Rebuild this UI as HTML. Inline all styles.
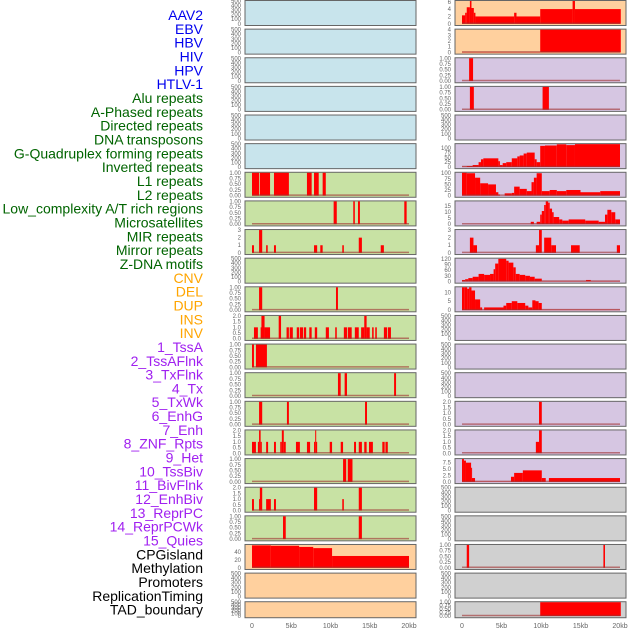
<!DOCTYPE html>
<html><head><meta charset="utf-8"><style>
html,body{margin:0;padding:0;background:#fff;width:630px;height:630px;overflow:hidden}
svg{display:block;font-family:"Liberation Sans",sans-serif}
</style></head><body>
<svg id="chart" width="630" height="630" viewBox="0 0 630 630"></svg>
<script>
const trackLabels = ["AAV2","EBV","HBV","HIV","HPV","HTLV-1","Alu repeats","A-Phased repeats","Directed repeats","DNA transposons","G-Quadruplex forming repeats","Inverted repeats","L1 repeats","L2 repeats","Low_complexity A/T rich regions","Microsatellites","MIR repeats","Mirror repeats","Z-DNA motifs","CNV","DEL","DUP","INS","INV","1_TssA","2_TssAFlnk","3_TxFlnk","4_Tx","5_TxWk","6_EnhG","7_Enh","8_ZNF_Rpts","9_Het","10_TssBiv","11_BivFlnk","12_EnhBiv","13_ReprPC","14_ReprPCWk","15_Quies","CPGisland","Methylation","Promoters","ReplicationTiming","TAD_boundary"];
const labelGroups = [0,0,0,0,0,0,1,1,1,1,1,1,1,1,1,1,1,1,1,2,2,2,2,2,3,3,3,3,3,3,3,3,3,3,3,3,3,3,3,4,4,4,4,4];
const groupColors = ["#0000ee","#006400","#ffa500","#a020f0","#000000"];
const kbTicks = [0,5,10,15,20];
const kbTickLabels = ["0","5kb","10kb","15kb","20kb"];
const leftBg = ["#c8e4ec","#c8e4ec","#c8e4ec","#c8e4ec","#c8e4ec","#c8e4ec","#c8e2a4","#c8e2a4","#c8e2a4","#c8e2a4","#c8e2a4","#c8e2a4","#c8e2a4","#c8e2a4","#c8e2a4","#c8e2a4","#c8e2a4","#c8e2a4","#c8e2a4","#ffd09e","#ffd09e","#ffd09e"];
const rightBg = ["#ffd09e","#ffd09e","#d6c6e2","#d6c6e2","#d6c6e2","#d6c6e2","#d6c6e2","#d6c6e2","#d6c6e2","#d6c6e2","#d6c6e2","#d6c6e2","#d6c6e2","#d6c6e2","#d6c6e2","#d6c6e2","#d6c6e2","#d0d0d0","#d0d0d0","#d0d0d0","#d0d0d0","#d0d0d0"];

const emptyTicks = [0,100,200,300,400,500];
const ticks1 = [0,0.25,0.5,0.75,1], ticks1Labels = ["0.00","0.25","0.50","0.75","1.00"];
const ticks2 = [0,0.5,1,1.5,2], ticks2Labels = ["0.0","0.5","1.0","1.5","2.0"];

// left column series [startKb, endKb, value]
const L7 = [[0,0.9,1],[1.0,2.3,1],[2.8,4.7,1],[7.0,7.6,1],[7.9,8.5,1],[9.0,9.4,1]];
const L8 = [[10.4,10.8,1],[12.9,13.1,1],[13.5,13.75,1],[19.4,19.7,1]];
const L9 = [[0,0.25,1],[0.9,1.3,3],[1.8,2.0,1],[2.8,3.05,1],[7.9,8.3,1],[8.7,9.0,1],[11.5,11.7,1],[13.6,14.0,2],[16.4,16.8,1]];
const L11 = [[0.9,1.3,1],[10.7,10.95,1]];
const L12 = [[0.25,0.75,1],[1.1,1.2,1],[1.2,1.6,2],[1.6,2.3,1],[3.4,3.7,2],[4.4,4.7,1],[4.8,5.2,1],[5.7,6.0,1],[6.1,6.5,1],[6.6,6.9,1],[7.3,7.6,1],[8.0,8.3,1],[9.4,9.8,1],[10.6,10.8,1],[11.7,12.1,1],[12.2,12.7,1],[13.1,13.6,1],[13.9,14.3,1],[14.3,14.6,2],[14.6,15.0,1],[15.3,15.5,1],[15.7,15.9,1],[16.8,17.2,1],[17.3,17.7,1]];
const L13 = [[0,0.25,1],[0.5,1.9,1]];
const L14 = [[10.95,11.3,1],[11.8,12.1,1],[18.1,18.35,1]];
const L15 = [[0.9,1.3,1],[4.45,4.7,1],[14.4,14.65,1]];
const L16 = [[0,0.5,1],[0.75,0.9,1],[0.9,1.1,2],[1.1,1.25,1],[1.8,2.05,1],[2.8,3.05,1],[3.6,3.8,1],[3.8,4.05,2],[4.05,4.3,1],[5.6,6.1,1],[7.0,7.4,1],[7.9,8.05,1],[8.05,8.15,2],[8.15,8.3,1],[9.9,10.2,1],[11.3,11.6,1],[13.0,13.25,1],[13.6,14.0,1],[14.3,14.6,1],[14.9,15.4,1],[16.6,16.9,1],[17.0,17.3,1]];
const L17 = [[11.6,12.0,1],[12.2,12.8,1]];
const L18 = [[0,0.25,1],[0.9,1.0,1],[1.0,1.3,2],[1.8,2.4,1],[2.8,3.05,1],[7.9,8.3,2],[11.5,11.7,1],[13.6,14.0,2]];
const L19 = [[3.95,4.3,1],[13.6,14.0,1]];
const L20 = [[0,2.4,57],[2.4,6,56],[6,7.8,53],[7.8,10.2,50],[10.2,20,30]];

// right column series
const R1 = [[0,0.4,2.3],[0.4,0.6,3],[0.6,1.0,4.5],[1.0,1.2,6.2],[1.2,1.5,4.3],[1.5,1.7,3],[1.7,6.6,2],[6.6,6.9,3],[6.9,9.9,2],[9.9,14.0,4],[14.0,14.3,6.2],[14.3,20.1,4]];
const R2 = [[0,9.9,0.08],[9.9,20.1,4]];
const R3 = [[0.9,1.4,1]];
const R4 = [[1.0,1.5,1],[10.2,11.0,1]];
const R6 = [[0,0.6,2],[0.6,1.35,5],[1.35,2.1,10],[2.1,2.4,25],[2.4,2.7,40],[2.7,4.6,45],[4.6,4.8,30],[4.8,5.15,10],[5.15,5.6,20],[5.6,6.3,25],[6.3,7.0,45],[7.0,7.3,55],[7.3,7.8,60],[7.8,8.2,70],[8.2,9.2,75],[9.2,9.45,40],[9.45,9.9,25],[9.9,10.5,110],[10.5,12,112],[12,13.2,118],[13.2,14.3,114],[14.3,20,119]];
const R7 = [[0,0.6,102],[0.6,1.65,100],[1.65,2.3,80],[2.3,3.3,55],[3.3,4.3,50],[4.3,4.6,15],[4.6,4.8,5],[4.8,5.4,0],[5.4,6.3,10],[6.3,6.6,12],[6.6,7.3,40],[7.3,8.2,30],[8.2,8.8,20],[8.8,9.1,60],[9.1,9.45,80],[9.45,10.1,100],[10.1,11.1,20],[11.1,12,25],[12,13.2,20],[13.2,15,25],[15,17.5,15],[17.5,20,20]];
const R8 = [[8.7,9.1,2],[9.45,9.9,2],[9.9,10.1,8],[10.1,10.4,11],[10.4,10.6,16],[10.6,10.9,19],[10.9,11.1,18],[11.1,11.4,13],[11.4,11.6,10],[11.6,12.3,6],[12.3,12.7,4],[12.7,13.5,3],[13.5,15.6,4],[15.6,17.3,3],[17.3,18.1,2],[18.1,18.4,8],[18.4,18.9,12],[18.9,19.4,10],[19.4,20,4]];
const R9 = [[1.0,1.45,2],[1.45,1.9,1],[9.35,9.75,1],[9.75,10.1,3],[10.4,11.3,2],[11.3,11.9,1],[13.8,14.9,1],[19.6,20.0,1]];
const R10 = [[0,0.4,8],[0.4,0.8,12],[0.8,1.35,18],[1.35,2.1,25],[2.1,2.8,40],[2.8,3.55,35],[3.55,4.0,40],[4.0,4.2,65],[4.2,4.6,95],[4.6,5.6,120],[5.6,5.9,110],[5.9,6.5,100],[6.5,6.8,75],[6.8,7.3,40],[7.3,8.0,35],[8.0,8.6,30],[8.6,9.2,25],[9.2,10.1,15],[10.1,15.7,2],[15.7,16.3,8],[16.3,20,2]];
const R11 = [[0,0.35,13],[0.35,0.65,13.5],[0.65,0.9,12],[0.9,1.2,13.5],[1.2,1.65,11],[1.65,2.3,6],[2.3,2.55,1.5],[2.55,2.8,0],[2.8,5.25,1.5],[5.25,5.6,2.5],[5.6,6.3,4],[6.3,7.0,5],[7.0,8.0,4],[8.0,8.4,2.5],[8.4,8.9,1.5],[8.9,9.3,5.5],[9.3,9.7,5],[9.7,10.1,4],[10.1,20,0.2]];
const R15 = [[9.75,10.1,2]];
const R16 = [[9.35,9.75,1],[9.75,10.1,2]];
const R17 = [[0,0.25,9],[0.25,0.5,8.3],[0.5,1.15,7.5],[1.15,1.25,5.5],[1.25,1.65,1.5],[1.65,6.2,0.1],[6.2,6.6,2],[6.6,7.7,3.5],[7.7,10.1,4.5],[10.1,10.6,1.5],[10.6,11,0],[11,20,1.5]];
const R20 = [[0.6,0.9,1],[17.9,18.1,1]];
const R22 = [[9.9,20.1,1]];

const leftSeries = [null,null,null,null,null,null,L7,L8,L9,null,L11,L12,L13,L14,L15,L16,L17,L18,L19,L20,null,null];
const leftMax = [500,500,500,500,500,500,1,1,3,500,1,2,1,1,1,2,1,2,1,58,500,500];
const rightSeries = [R1,R2,R3,R4,null,R6,R7,R8,R9,R10,R11,null,null,null,R15,R16,R17,null,null,R20,null,R22];
const rightMax = [6.2,4,1,1,500,119,102,19,3,121,12.8,500,500,500,2,2,8.9,500,500,1,500,1];

const NS="http://www.w3.org/2000/svg";
const svg=document.getElementById('chart');
function mk(tag,attrs,parent){const e=document.createElementNS(NS,tag);for(const k in attrs)e.setAttribute(k,attrs[k]);(parent||svg).appendChild(e);return e;}

// labels
trackLabels.forEach((t,i)=>{
  const e=mk('text',{x:203,y:15+i*13.83+5,'text-anchor':'end','font-size':14,fill:groupColors[labelGroups[i]]});
  e.textContent=t;
  
  
});

function tickSpec(ymax){
  if(ymax===500) return [emptyTicks, emptyTicks.map(String)];
  if(ymax===1) return [ticks1,ticks1Labels];
  if(ymax===2) return [ticks2,ticks2Labels];
  if(ymax===3) return [[0,1,2,3],["0","1","2","3"]];
  if(ymax===4) return [[0,1,2,3,4],["0","1","2","3","4"]];
  if(ymax===6.2) return [[0,2,4,6],["0","2","4","6"]];
  if(ymax===58) return [[0,20,40],["0","20","40"]];
  if(ymax===119||ymax===102) return [[0,25,50,75,100],["0","25","50","75","100"]];
  if(ymax===19) return [[0,5,10,15],["0","5","10","15"]];
  if(ymax===121) return [[0,30,60,90,120],["0","30","60","90","120"]];
  if(ymax===12.8) return [[0,5,10],["0","5","10"]];
  if(ymax===8.9) return [[0,2.5,5,7.5],["0.0","2.5","5.0","7.5"]];
  return [[0],["0"]];
}

function drawPanel(side,i,bg,series,ymax){
  const px = side==='left'?245:455;
  const x0 = side==='left'?252:462;
  const kbScale = side==='left'?7.85:7.9;
  const xs = kb=>x0+kb*kbScale;
  const top = i*28.63;
  const h = i===21?16:25;
  const base = top+h-1.2;
  const span = h-2.2;
  const ys = v=>base-Math.min(v,ymax)/ymax*span;
  const g=mk('g',{});
  
  
  mk('rect',{x:px,y:top+0.5,width:171,height:h,fill:bg,stroke:'#666','stroke-width':1},g);
  const [tv,tl]=tickSpec(ymax);
  tv.forEach((v,j)=>{
    const t=mk('text',{x:px-4,y:ys(v)+2,'text-anchor':'end','font-size':6,fill:'#666'},g);
    t.textContent=tl[j];
    
    
  });
  if(series){
    series.forEach(s=>{
      const r=mk('rect',{x:xs(s[0]),y:ys(s[2]),width:Math.max(1,xs(s[1])-xs(s[0])),height:base-ys(s[2]),fill:'#ff0000'},g);
      
      
    });
    mk('line',{x1:xs(0),x2:xs(20),y1:base-0.5,y2:base-0.5,stroke:'#a03030','stroke-width':1.5,opacity:0.6},g);
  }
}
for(let i=0;i<22;i++){
  drawPanel('left',i,leftBg[i],leftSeries[i],leftMax[i]);
  drawPanel('right',i,rightBg[i],rightSeries[i],rightMax[i]);
}
// x axes
[[252,7.85,'left'],[462,7.9,'right']].forEach(([x0,s,side])=>{
  kbTicks.forEach((k,j)=>{
    const t=mk('text',{x:x0+k*s,y:628,'text-anchor':'middle','font-size':7,fill:'#666'});
    t.textContent=kbTickLabels[j];
    
    
  });
});
</script>
</body></html>
